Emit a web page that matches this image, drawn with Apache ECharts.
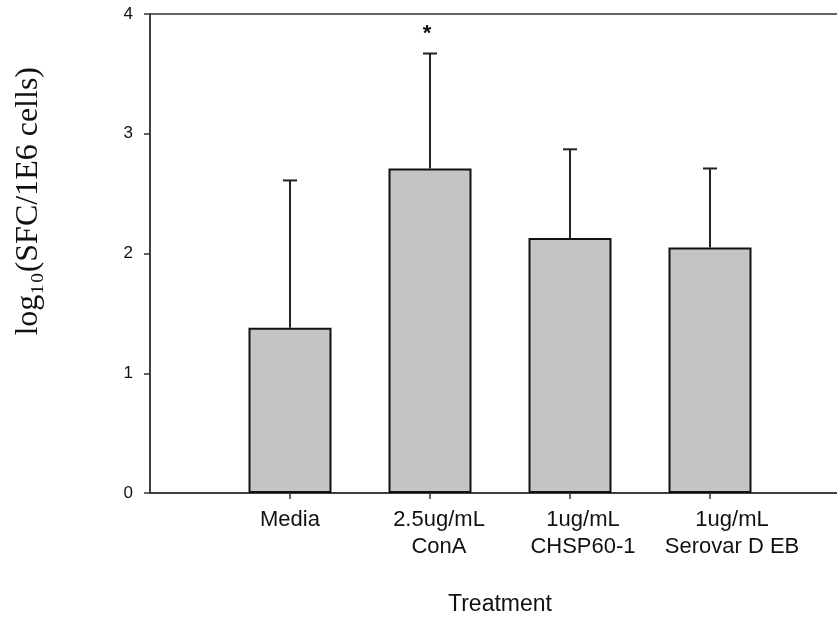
<!DOCTYPE html>
<html>
<head>
<meta charset="utf-8">
<script src="https://cdn.jsdelivr.net/npm/echarts@6/dist/echarts.min.js"></script>
<style>html,body{margin:0;padding:0;background:#fff}#c{width:837px;height:617px}</style>
</head>
<body>
<div id="c"></div>
<script>
var categories = ['', 'Media', '2.5ug/mL\nConA', '1ug/mL\nCHSP60-1', '1ug/mL\nSerovar D EB', ''];
var means = [null, 1.38, 2.71, 2.13, 2.05, null];
var upper = [null, 2.61, 3.67, 2.87, 2.71, null];
var marks = ['', '', '*', '', '', ''];
var yTicks = [0, 1, 2, 3, 4];
var labelShift = [0, 0, 18, 26, 44, 0];

var chart = echarts.init(document.getElementById('c'));
var errData = [];
for (var i = 0; i < categories.length; i++) {
  if (means[i] != null) errData.push([i, means[i], upper[i], marks[i]]);
}
var xData = categories.map(function (c, i) {
  return { value: c, textStyle: { padding: [0, 0, 0, labelShift[i]] } };
});
chart.setOption({
  animation: false,
  backgroundColor: '#fff',
  grid: { left: 150, top: 14, bottom: 124, width: 700, outerBoundsMode: 'none', containLabel: false, show: true, borderColor: '#333', borderWidth: 1.5, backgroundColor: 'transparent' },
  xAxis: {
    type: 'category', data: xData, boundaryGap: false,
    axisLine: { lineStyle: { color: '#333', width: 1.5 } },
    axisTick: { length: 6, lineStyle: { color: '#333', width: 1.5 }, interval: function (i) { return i > 0 && i < categories.length - 1; } },
    axisLabel: { color: '#111', fontFamily: 'Liberation Sans, Arial', fontSize: 22, lineHeight: 27, margin: 13, interval: 0 },
    name: 'Treatment', nameLocation: 'middle', nameGap: 100,
    nameTextStyle: { color: '#111', fontFamily: 'Liberation Sans, Arial', fontSize: 23 }
  },
  yAxis: {
    type: 'value', min: 0, max: 4, interval: 1,
    axisLine: { show: true, lineStyle: { color: '#333', width: 1.5 } },
    axisTick: { show: true, length: 6, lineStyle: { color: '#333', width: 1.5 } },
    axisLabel: { color: '#111', fontFamily: 'Liberation Sans, Arial', fontSize: 17, margin: 17, formatter: function (v) { return yTicks.indexOf(v) >= 0 ? String(v) : ''; } },
    splitLine: { show: false }
  },
  graphic: [{
    type: 'text', left: 13, top: 67, rotation: Math.PI / 2,
    style: { text: 'log₁₀(SFC/1E6 cells)', font: '32px "Liberation Serif", serif', fill: '#111' }
  }],
  series: [{
    type: 'bar', data: means, barWidth: 83,
    itemStyle: { color: '#c4c4c4', borderColor: '#111', borderWidth: 2 }
  }, {
    type: 'custom', data: errData, z: 5,
    renderItem: function (params, api) {
      var x = api.value(0);
      var b = api.coord([x, api.value(1)]);
      var t = api.coord([x, api.value(2)]);
      var children = [
        { type: 'line', shape: { x1: b[0], y1: b[1], x2: t[0], y2: t[1] }, style: { stroke: '#222', lineWidth: 2 } },
        { type: 'line', shape: { x1: t[0] - 7, y1: t[1], x2: t[0] + 7, y2: t[1] }, style: { stroke: '#222', lineWidth: 2 } }
      ];
      var m = api.value(3);
      if (m) {
        children.push({ type: 'text', x: t[0] - 3, y: t[1] - 20, style: { text: m, font: 'bold 22px "Liberation Sans", Arial', fill: '#111', align: 'center', verticalAlign: 'middle' } });
      }
      return { type: 'group', children: children };
    }
  }]
});
</script>
</body>
</html>
